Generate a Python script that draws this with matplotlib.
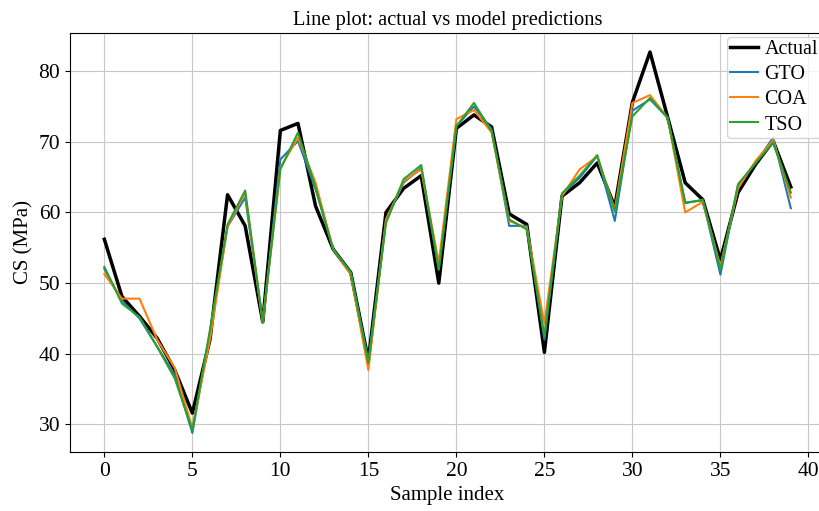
import matplotlib
matplotlib.use("Agg")
import matplotlib.pyplot as plt
import numpy as np

# Values
sample_index = np.arange(40)

actual = [56.2, 48.1, 45.3, 42.2, 37.7, 31.6, 42.0, 62.5, 58.1, 44.5,
          71.6, 72.6, 60.9, 54.8, 51.5, 39.1, 60.0, 63.4, 65.2, 50.0,
          71.9, 73.8, 72.1, 59.8, 58.3, 40.2, 62.3, 64.2, 67.0, 60.8,
          75.6, 82.7, 73.5, 64.2, 61.8, 53.3, 62.8, 66.8, 70.1, 63.6]

gto = [52.0, 47.5, 45.0, 41.0, 37.0, 28.8, 43.0, 58.0, 62.1, 44.5,
       67.5, 70.1, 63.3, 54.8, 51.5, 39.0, 58.8, 64.2, 66.3, 52.0,
       72.2, 75.0, 71.8, 58.1, 58.1, 42.0, 62.5, 64.9, 68.0, 58.8,
       74.4, 76.0, 73.4, 61.4, 61.7, 51.2, 63.8, 67.0, 70.6, 60.6]

coa = [51.3, 47.8, 47.8, 42.0, 38.0, 29.5, 42.0, 58.0, 62.8, 44.4,
       66.3, 70.6, 64.2, 54.8, 51.2, 37.7, 59.0, 64.4, 66.1, 52.9,
       73.2, 74.5, 71.3, 58.8, 57.8, 44.3, 62.3, 66.1, 67.9, 60.4,
       75.5, 76.6, 73.4, 60.0, 61.5, 52.4, 63.4, 67.3, 70.2, 62.1]

tso = [52.3, 47.1, 45.2, 41.0, 36.5, 29.2, 43.4, 58.3, 63.1, 44.5,
       66.1, 71.3, 63.5, 54.8, 51.5, 38.7, 58.5, 64.7, 66.7, 51.9,
       72.2, 75.5, 71.5, 59.0, 57.6, 42.5, 62.7, 65.2, 68.1, 60.1,
       73.6, 76.2, 73.4, 61.3, 61.8, 51.9, 64.0, 67.0, 69.9, 62.8]

plt.rcParams['font.family'] = ['Liberation Serif', 'DejaVu Serif']

fig = plt.figure(figsize=(8.19, 5.11), dpi=100)
# the original was cropped on the right, so the axes run past the figure edge
ax = fig.add_axes([0.0855, 0.1155, 0.922, 0.82])

ax.plot(sample_index, actual, color='black', linewidth=2.5, label='Actual')
ax.plot(sample_index, gto, color='#1f77b4', linewidth=1.5, label='GTO')
ax.plot(sample_index, coa, color='#ff7f0e', linewidth=1.5, label='COA')
ax.plot(sample_index, tso, color='#2ca02c', linewidth=1.5, label='TSO')

ax.set_title('Line plot: actual vs model predictions', fontsize=14.8)
ax.set_xlabel('Sample index', fontsize=15)
ax.set_ylabel('CS (MPa)', fontsize=15)
ax.tick_params(labelsize=15.5)
ax.set_yticks([30, 40, 50, 60, 70, 80])
ax.grid(True, color='#c8c8c8')
ax.legend(loc='upper right', fontsize=14.5, handlelength=1.35,
          borderpad=0.15, labelspacing=0.3, handletextpad=0.35,
          borderaxespad=0.2)

fig.savefig('out.png', dpi=100)
